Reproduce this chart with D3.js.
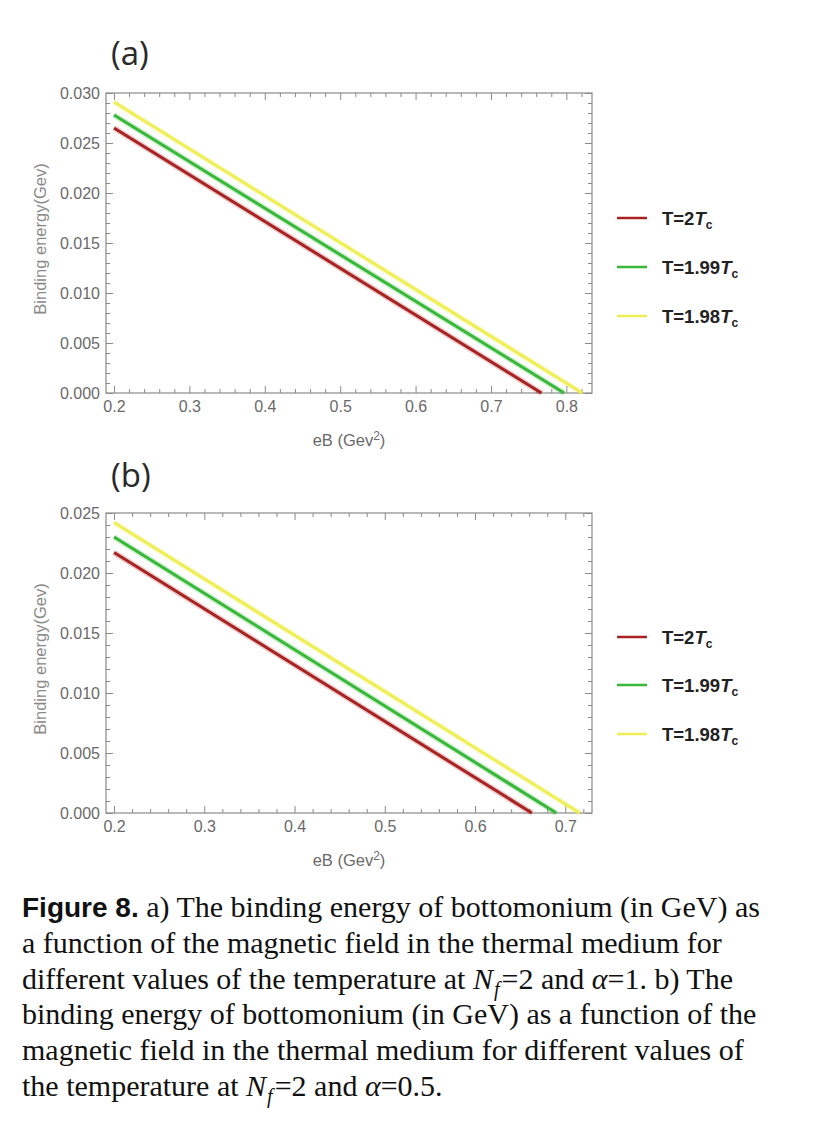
<!DOCTYPE html>
<html><head><meta charset="utf-8">
<script src="https://cdn.jsdelivr.net/npm/d3@7"></script>
<style>body{margin:0;background:#fff}</style>
</head><body>
<svg id="c" width="816" height="1134" xmlns="http://www.w3.org/2000/svg"></svg>
<script>
// ---------- data ----------
const seriesLabels = ["T=2", "T=1.99", "T=1.98"];
const seriesColors = ["#a82222", "#38b838", "#eeee55"];

// panel (a): Nf=2, alpha=1  (eB in GeV^2, binding energy in GeV)
const aEB_T200 = [0.2, 0.767];  const aE_T200 = [0.0265, 0.0];
const aEB_T199 = [0.2, 0.797];  const aE_T199 = [0.0278, 0.0];
const aEB_T198 = [0.2, 0.821];  const aE_T198 = [0.0291, 0.0];

// panel (b): Nf=2, alpha=0.5
const bEB_T200 = [0.2, 0.663];  const bE_T200 = [0.0217, 0.0];
const bEB_T199 = [0.2, 0.690];  const bE_T199 = [0.0230, 0.0];
const bEB_T198 = [0.2, 0.716];  const bE_T198 = [0.0242, 0.0];

const aXTicks = [0.2, 0.3, 0.4, 0.5, 0.6, 0.7, 0.8];
const aYTicks = [0.000, 0.005, 0.010, 0.015, 0.020, 0.025, 0.030];
const bXTicks = [0.2, 0.3, 0.4, 0.5, 0.6, 0.7];
const bYTicks = [0.000, 0.005, 0.010, 0.015, 0.020, 0.025];

const captionLines = [
  "a function of the magnetic field in the thermal medium for",
  "binding energy of bottomonium (in GeV) as a function of the",
  "magnetic field in the thermal medium for different values of"
];

// ---------- drawing ----------
const svg = d3.select("#c");
svg.append("rect").attr("width", 816).attr("height", 1134).attr("fill", "#fff");

function zip(xs, ys) { return xs.map((x, i) => [x, ys[i]]); }

function panel(cfg) {
  const x = d3.scaleLinear().domain(cfg.xDomain).range([cfg.left, cfg.right]);
  const y = d3.scaleLinear().domain(cfg.yDomain).range([cfg.bottom, cfg.top]);
  const g = svg.append("g");
  const frameCol = "#8a8a8a";
  const labelCol = "#6a6a6a";

  // minor ticks
  const xMinor = d3.range(Math.ceil(cfg.xDomain[0] / 0.02) * 0.02, cfg.xDomain[1], 0.02)
    .filter(v => !cfg.xTicks.some(t => Math.abs(t - v) < 1e-6));
  const yMinor = d3.range(0.001, cfg.yDomain[1], 0.001)
    .filter(v => !cfg.yTicks.some(t => Math.abs(t - v) < 1e-7));

  function styleAxis(sel) {
    sel.select(".domain").remove();
    sel.selectAll(".tick line").attr("stroke", frameCol);
    sel.selectAll(".tick text").attr("fill", labelCol)
      .style("font-family", "Liberation Sans, Arial, sans-serif").style("font-size", "16px");
  }

  // bottom axis
  g.append("g").attr("transform", `translate(0,${cfg.bottom})`)
    .call(d3.axisBottom(x).tickValues(cfg.xTicks).tickFormat(d3.format(".1f")).tickSize(-7).tickPadding(8))
    .call(styleAxis);
  g.append("g").attr("transform", `translate(0,${cfg.bottom})`)
    .call(d3.axisBottom(x).tickValues(xMinor).tickFormat("").tickSize(-4))
    .call(styleAxis);
  // top axis
  g.append("g").attr("transform", `translate(0,${cfg.top})`)
    .call(d3.axisTop(x).tickValues(cfg.xTicks).tickFormat("").tickSize(-7))
    .call(styleAxis);
  g.append("g").attr("transform", `translate(0,${cfg.top})`)
    .call(d3.axisTop(x).tickValues(xMinor).tickFormat("").tickSize(-4))
    .call(styleAxis);
  // left axis
  g.append("g").attr("transform", `translate(${cfg.left},0)`)
    .call(d3.axisLeft(y).tickValues(cfg.yTicks).tickFormat(d3.format(".3f")).tickSize(-7).tickPadding(6))
    .call(styleAxis);
  g.append("g").attr("transform", `translate(${cfg.left},0)`)
    .call(d3.axisLeft(y).tickValues(yMinor).tickFormat("").tickSize(-4))
    .call(styleAxis);
  // right axis
  g.append("g").attr("transform", `translate(${cfg.right},0)`)
    .call(d3.axisRight(y).tickValues(cfg.yTicks).tickFormat("").tickSize(-7))
    .call(styleAxis);
  g.append("g").attr("transform", `translate(${cfg.right},0)`)
    .call(d3.axisRight(y).tickValues(yMinor).tickFormat("").tickSize(-4))
    .call(styleAxis);

  // frame
  g.append("rect").attr("x", cfg.left).attr("y", cfg.top)
    .attr("width", cfg.right - cfg.left).attr("height", cfg.bottom - cfg.top)
    .attr("fill", "none").attr("stroke", frameCol).attr("stroke-width", 1.2);

  // series
  const line = d3.line().x(d => x(d[0])).y(d => y(d[1]));
  cfg.series.forEach((s, i) => {
    g.append("path").datum(s).attr("d", line).attr("fill", "none")
      .attr("stroke", seriesColors[i]).attr("stroke-width", 6).attr("stroke-opacity", 0.22);
    g.append("path").datum(s).attr("d", line).attr("fill", "none")
      .attr("stroke", seriesColors[i]).attr("stroke-width", 3);
  });

  // axis labels
  const xl = g.append("text").attr("x", (cfg.left + cfg.right) / 2).attr("y", cfg.bottom + 53)
    .attr("text-anchor", "middle").attr("fill", labelCol)
    .style("font-family", "Liberation Sans, Arial, sans-serif").style("font-size", "16.5px");
  xl.append("tspan").text("eB (Gev");
  xl.append("tspan").attr("dy", -6).style("font-size", "12px").text("2");
  xl.append("tspan").attr("dy", 6).text(")");

  g.append("text")
    .attr("transform", `translate(46,${(cfg.top + cfg.bottom) / 2 - 4}) rotate(-90)`)
    .attr("text-anchor", "middle").attr("fill", "#8a8a8a")
    .style("font-family", "Liberation Sans, Arial, sans-serif").style("font-size", "16.5px")
    .text("Binding energy(Gev)");

  // panel tag
  g.append("text").attr("x", cfg.tagX).attr("y", cfg.tagY).attr("fill", "#2a2a2a")
    .style("font-family", "Open Sans, sans-serif").style("font-size", "33px")
    .text(cfg.tag);

  // legend
  cfg.legendY.forEach((ly, i) => {
    g.append("line").attr("x1", 617).attr("x2", 647).attr("y1", ly).attr("y2", ly)
      .attr("stroke", seriesColors[i]).attr("stroke-width", 2.5);
    const t = g.append("text").attr("x", 662).attr("y", ly + 7).attr("fill", "#222")
      .style("font-family", "Liberation Sans, Arial, sans-serif").style("font-size", "18.5px")
      .style("font-weight", "bold");
    t.append("tspan").text(seriesLabels[i]);
    t.append("tspan").style("font-style", "italic").text("T");
    t.append("tspan").attr("dy", 4).style("font-size", "12px").text("c");
  });
}

panel({
  left: 106, right: 592, top: 93, bottom: 393,
  xDomain: [0.1894, 0.834], yDomain: [0, 0.030],
  xTicks: aXTicks, yTicks: aYTicks,
  series: [zip(aEB_T200, aE_T200), zip(aEB_T199, aE_T199), zip(aEB_T198, aE_T198)],
  tag: "(a)", tagX: 111, tagY: 65,
  legendY: [218, 267, 316]
});

panel({
  left: 106, right: 592, top: 513, bottom: 813,
  xDomain: [0.1911, 0.7296], yDomain: [0, 0.025],
  xTicks: bXTicks, yTicks: bYTicks,
  series: [zip(bEB_T200, bE_T200), zip(bEB_T199, bE_T199), zip(bEB_T198, bE_T198)],
  tag: "(b)", tagX: 111, tagY: 487,
  legendY: [637, 685, 734]
});

// ---------- caption ----------
const cap = svg.append("g").style("font-family", "Liberation Serif, Times New Roman, serif")
  .style("font-size", "30px").attr("fill", "#111");
const lh = 35.8, x0 = 22, y0 = 917;

const l1 = cap.append("text").attr("x", x0).attr("y", y0);
l1.append("tspan").style("font-family", "Liberation Sans, Arial, sans-serif")
  .style("font-weight", "bold").style("font-size", "28px").text("Figure 8.");
l1.append("tspan").text(" a) The binding energy of bottomonium (in GeV) as");

cap.append("text").attr("x", x0).attr("y", y0 + lh).text(captionLines[0]);

function nfAlpha(t, alphaVal, tail) {
  t.append("tspan").style("font-style", "italic").text("N");
  t.append("tspan").style("font-style", "italic").style("font-size", "20px").attr("dy", 7).attr("dx", 1).text("f");
  t.append("tspan").attr("dy", -7).attr("dx", 2).text("=2 and ");
  t.append("tspan").style("font-style", "italic").text("α");
  t.append("tspan").text("=" + alphaVal + tail);
}
const l3 = cap.append("text").attr("x", x0).attr("y", y0 + 2 * lh);
l3.append("tspan").text("different values of the temperature at ");
nfAlpha(l3, "1", ". b) The");

cap.append("text").attr("x", x0).attr("y", y0 + 3 * lh).text(captionLines[1]);
cap.append("text").attr("x", x0).attr("y", y0 + 4 * lh).text(captionLines[2]);

const l6 = cap.append("text").attr("x", x0).attr("y", y0 + 5 * lh);
l6.append("tspan").text("the temperature at ");
nfAlpha(l6, "0.5", ".");
</script>
</body></html>
